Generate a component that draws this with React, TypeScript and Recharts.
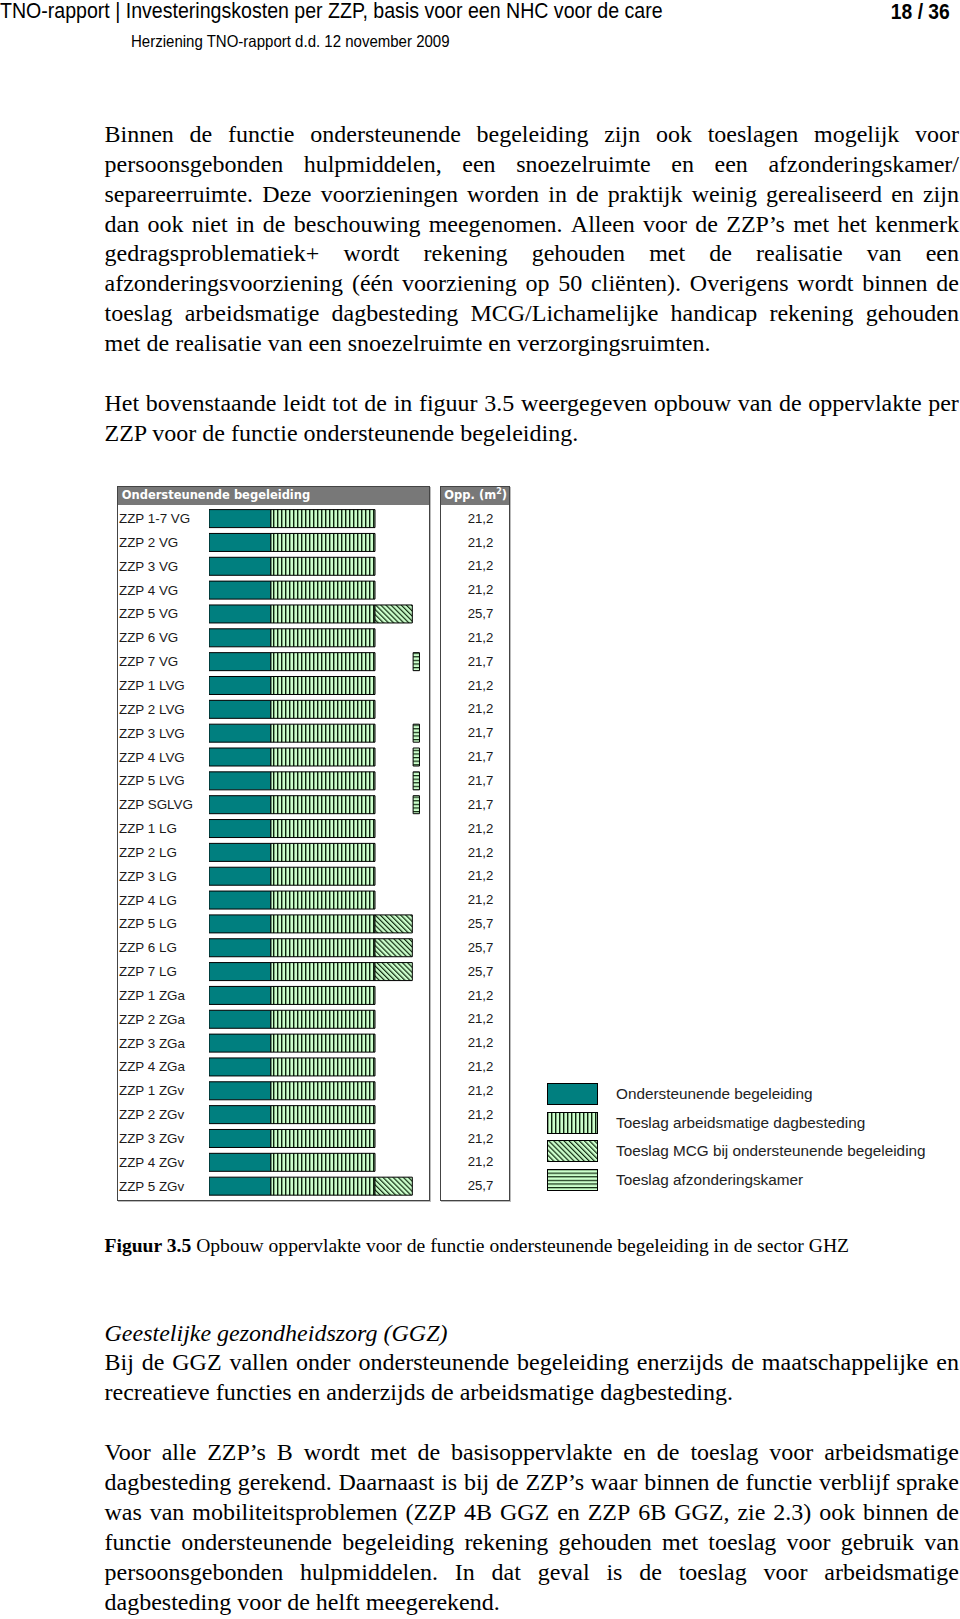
import React from 'react'
import { BarChart, Bar, XAxis, YAxis, Legend } from 'recharts'

const CATEGORIES = [
  'ZZP 1-7 VG', 'ZZP 2 VG', 'ZZP 3 VG', 'ZZP 4 VG', 'ZZP 5 VG', 'ZZP 6 VG', 'ZZP 7 VG',
  'ZZP 1 LVG', 'ZZP 2 LVG', 'ZZP 3 LVG', 'ZZP 4 LVG', 'ZZP 5 LVG', 'ZZP SGLVG',
  'ZZP 1 LG', 'ZZP 2 LG', 'ZZP 3 LG', 'ZZP 4 LG', 'ZZP 5 LG', 'ZZP 6 LG', 'ZZP 7 LG',
  'ZZP 1 ZGa', 'ZZP 2 ZGa', 'ZZP 3 ZGa', 'ZZP 4 ZGa',
  'ZZP 1 ZGv', 'ZZP 2 ZGv', 'ZZP 3 ZGv', 'ZZP 4 ZGv', 'ZZP 5 ZGv',
]

// segment lengths as drawn (m2)
const ONDERSTEUNEND = [
  7.8, 7.8, 7.8, 7.8, 7.8, 7.8, 7.8,
  7.8, 7.8, 7.8, 7.8, 7.8, 7.8,
  7.8, 7.8, 7.8, 7.8, 7.8, 7.8, 7.8,
  7.8, 7.8, 7.8, 7.8,
  7.8, 7.8, 7.8, 7.8, 7.8,
]
const ARBEID = [
  13.1, 13.1, 13.1, 13.1, 13.1, 13.1, 13.1,
  13.1, 13.1, 13.1, 13.1, 13.1, 13.1,
  13.1, 13.1, 13.1, 13.1, 13.1, 13.1, 13.1,
  13.1, 13.1, 13.1, 13.1,
  13.1, 13.1, 13.1, 13.1, 13.1,
]
const MCG = [
  0, 0, 0, 0, 4.7, 0, 0,
  0, 0, 0, 0, 0, 0,
  0, 0, 0, 0, 4.7, 4.7, 4.7,
  0, 0, 0, 0,
  0, 0, 0, 0, 4.7,
]
// empty space before the separate afzonderingskamer block
const GAP = [
  0, 0, 0, 0, 0, 0, 4.8,
  0, 0, 4.8, 4.8, 4.8, 4.8,
  0, 0, 0, 0, 0, 0, 0,
  0, 0, 0, 0,
  0, 0, 0, 0, 0,
]
const AFZONDERING = [
  0, 0, 0, 0, 0, 0, 0.8,
  0, 0, 0.8, 0.8, 0.8, 0.8,
  0, 0, 0, 0, 0, 0, 0,
  0, 0, 0, 0,
  0, 0, 0, 0, 0,
]
const OPP = [
  '21,2', '21,2', '21,2', '21,2', '25,7', '21,2', '21,7',
  '21,2', '21,2', '21,7', '21,7', '21,7', '21,7',
  '21,2', '21,2', '21,2', '21,2', '25,7', '25,7', '25,7',
  '21,2', '21,2', '21,2', '21,2',
  '21,2', '21,2', '21,2', '21,2', '25,7',
]

const LEGEND_ITEMS = [
  { label: 'Ondersteunende begeleiding', fill: '#007f7f' },
  { label: 'Toeslag arbeidsmatige dagbesteding', fill: 'url(#pVert)' },
  { label: 'Toeslag MCG bij ondersteunende begeleiding', fill: 'url(#pDiag)' },
  { label: 'Toeslag afzonderingskamer', fill: 'url(#pHor)' },
]

const data = CATEGORIES.map((name, i) => ({
  name,
  ondersteunend: ONDERSTEUNEND[i],
  arbeid: ARBEID[i],
  mcg: MCG[i],
  gap: GAP[i],
  afz: AFZONDERING[i],
}))

const SANS = "'Liberation Sans', Arial, sans-serif"
const SERIF = "'Liberation Serif', 'Times New Roman', serif"
const LH = 29.85

const PARA_1 = [
  'Binnen de functie ondersteunende begeleiding zijn ook toeslagen mogelijk voor',
  'persoonsgebonden hulpmiddelen, een snoezelruimte en een afzonderingskamer/',
  'separeerruimte. Deze voorzieningen worden in de praktijk weinig gerealiseerd en zijn',
  'dan ook niet in de beschouwing meegenomen. Alleen voor de ZZP’s met het kenmerk',
  'gedragsproblematiek+ wordt rekening gehouden met de realisatie van een',
  'afzonderingsvoorziening (één voorziening op 50 cliënten). Overigens wordt binnen de',
  'toeslag arbeidsmatige dagbesteding MCG/Lichamelijke handicap rekening gehouden',
  'met de realisatie van een snoezelruimte en verzorgingsruimten.',
]
const PARA_2 = [
  'Het bovenstaande leidt tot de in figuur 3.5 weergegeven opbouw van de oppervlakte per',
  'ZZP voor de functie ondersteunende begeleiding.',
]
const PARA_3 = [
  'Bij de GGZ vallen onder ondersteunende begeleiding enerzijds de maatschappelijke en',
  'recreatieve functies en anderzijds de arbeidsmatige dagbesteding.',
]
const PARA_4 = [
  'Voor alle ZZP’s B wordt met de basisoppervlakte en de toeslag voor arbeidsmatige',
  'dagbesteding gerekend. Daarnaast is bij de ZZP’s waar binnen de functie verblijf sprake',
  'was van mobiliteitsproblemen (ZZP 4B GGZ en ZZP 6B GGZ, zie 2.3) ook binnen de',
  'functie ondersteunende begeleiding rekening gehouden met toeslag voor gebruik van',
  'persoonsgebonden hulpmiddelen. In dat geval is de toeslag voor arbeidsmatige',
  'dagbesteding voor de helft meegerekend.',
]

function Para({ lines, top }: { lines: string[]; top: number }) {
  return (
    <div style={{ position: 'absolute', left: 104.5, top, width: 854.5, fontFamily: SERIF, fontSize: 24, lineHeight: `${LH}px`, color: '#000' }}>
      {lines.map((line, i) =>
        i < lines.length - 1 ? (
          <div key={i} style={{ display: 'flex', justifyContent: 'space-between', height: LH, whiteSpace: 'nowrap' }}>
            {line.split(' ').map((w, j) => <span key={j}>{w}</span>)}
          </div>
        ) : (
          <div key={i} style={{ height: LH, whiteSpace: 'pre' }}>{line}</div>
        )
      )}
    </div>
  )
}

const NameTick = (props: any) => (
  <text x={2} y={props.y} dy={4.6} fontSize={13.4} fill="#1a1a1a" fontFamily={SANS} textAnchor="start">
    {props.payload.value}
  </text>
)

const OppTick = (props: any) => (
  <text x={376.3} y={props.y} dy={4.2} fontSize={13.2} fill="#1a1a1a" fontFamily={SANS} textAnchor="end">
    {OPP[CATEGORIES.indexOf(props.payload.value)]}
  </text>
)

const LegendBox = () => (
  <div style={{ fontFamily: SANS, fontSize: 15.3, color: '#222' }}>
    {LEGEND_ITEMS.map((item) => (
      <div key={item.label} style={{ display: 'flex', alignItems: 'center', height: 28.7 }}>
        <svg width={51} height={22} style={{ display: 'block' }}>
          <rect x={0.5} y={0.5} width={50} height={21} fill={item.fill} stroke="#000" strokeWidth={1} />
        </svg>
        <span style={{ marginLeft: 18, whiteSpace: 'nowrap' }}>{item.label}</span>
      </div>
    ))}
  </div>
)

const panelHeader: React.CSSProperties = {
  position: 'absolute',
  top: 0,
  left: 0,
  right: 0,
  height: 18,
  background: '#787878',
  color: '#fff',
  fontFamily: "'DejaVu Sans', Verdana, sans-serif",
  fontWeight: 'bold',
  fontSize: 11.5,
  lineHeight: '17px',
  whiteSpace: 'nowrap',
}

export default function App() {
  return (
    <div style={{ position: 'absolute', left: 0, top: 0, width: 960, height: 1619, background: '#fff', overflow: 'hidden' }}>
      <svg width={0} height={0} style={{ position: 'absolute' }}>
        <defs>
          <pattern id="pVert" width={4} height={4} patternUnits="userSpaceOnUse">
            <rect width={4} height={4} fill="#ccffcc" />
            <rect x={0} y={0} width={1.4} height={4} fill="#0c220c" />
          </pattern>
          <pattern id="pDiag" width={3.6} height={3.6} patternUnits="userSpaceOnUse" patternTransform="rotate(-45)">
            <rect width={3.6} height={3.6} fill="#ccffcc" />
            <rect x={0} y={0} width={1.2} height={3.6} fill="#102a10" />
          </pattern>
          <pattern id="pHor" width={4} height={3.6} patternUnits="userSpaceOnUse">
            <rect width={4} height={3.6} fill="#ccffcc" />
            <rect x={0} y={0} width={4} height={1.2} fill="#102a10" />
          </pattern>
        </defs>
      </svg>

      {/* page header */}
      <div style={{ position: 'absolute', left: 0, top: 0.5, fontFamily: SANS, fontSize: 21.5, lineHeight: '21.5px', whiteSpace: 'nowrap', transform: 'scaleX(0.91)', transformOrigin: 'left top' }}>
        TNO-rapport | Investeringskosten per ZZP, basis voor een NHC voor de care
      </div>
      <div style={{ position: 'absolute', right: 10, top: 0.5, fontFamily: SANS, fontWeight: 'bold', fontSize: 21.2, lineHeight: '21.5px', whiteSpace: 'nowrap', transform: 'scaleX(0.91)', transformOrigin: 'right top' }}>
        18 / 36
      </div>
      <div style={{ position: 'absolute', left: 131, top: 32.5, fontFamily: SANS, fontSize: 16.5, lineHeight: '16.5px', whiteSpace: 'nowrap', transform: 'scaleX(0.91)', transformOrigin: 'left top' }}>
        Herziening TNO-rapport d.d. 12 november 2009
      </div>

      <Para lines={PARA_1} top={120} />
      <Para lines={PARA_2} top={389.4} />

      {/* chart frames */}
      <div style={{ position: 'absolute', left: 117, top: 486, width: 311, height: 713, border: '1px solid #444', boxShadow: '1px 1px 0 #bbb' }}>
        <div style={panelHeader}><span style={{ marginLeft: 3.7 }}>Ondersteunende begeleiding</span></div>
      </div>
      <div style={{ position: 'absolute', left: 440, top: 486, width: 68, height: 713, border: '1px solid #444', boxShadow: '1px 1px 0 #bbb' }}>
        <div style={panelHeader}><span style={{ marginLeft: 3.3 }}>Opp. (m<sup style={{ fontSize: 8, lineHeight: 0 }}>2</sup>)</span></div>
      </div>

      <div style={{ position: 'absolute', left: 117, top: 505 }}>
        <BarChart
          width={843}
          height={695}
          data={data}
          layout="vertical"
          margin={{ top: 1.6, right: 451, bottom: 2, left: 0 }}
        >
          <XAxis type="number" domain={[0, 27.7]} hide allowDataOverflow />
          <YAxis
            yAxisId="left"
            type="category"
            dataKey="name"
            width={92}
            axisLine={false}
            tickLine={false}
            interval={0}
            tick={(p: any) => <NameTick {...p} />}
          />
          <YAxis
            yAxisId="right"
            orientation="right"
            type="category"
            dataKey="name"
            width={80}
            axisLine={false}
            tickLine={false}
            interval={0}
            tick={(p: any) => <OppTick {...p} />}
          />
          <Legend
            layout="vertical"
            align="center"
            verticalAlign="middle"
            content={() => <LegendBox />}
            wrapperStyle={{ left: 430, top: 574.5, width: 420, height: 120 }}
          />
          <Bar yAxisId="left" dataKey="ondersteunend" stackId="a" barSize={18} fill="#007f7f" stroke="#000" strokeWidth={1} isAnimationActive={false} />
          <Bar yAxisId="left" dataKey="arbeid" stackId="a" barSize={18} fill="url(#pVert)" stroke="#000" strokeWidth={1} isAnimationActive={false} />
          <Bar yAxisId="left" dataKey="mcg" stackId="a" barSize={18} fill="url(#pDiag)" stroke="#000" strokeWidth={1} isAnimationActive={false} />
          <Bar yAxisId="left" dataKey="gap" stackId="a" barSize={18} fill="none" stroke="none" isAnimationActive={false} />
          <Bar yAxisId="left" dataKey="afz" stackId="a" barSize={18} fill="url(#pHor)" stroke="#000" strokeWidth={1} isAnimationActive={false} />
        </BarChart>
      </div>

      <div style={{ position: 'absolute', left: 104.5, top: 1234.4, fontFamily: SERIF, fontSize: 19.6, lineHeight: '24px', whiteSpace: 'nowrap' }}>
        <b>Figuur 3.5</b> Opbouw oppervlakte voor de functie ondersteunende begeleiding in de sector GHZ
      </div>

      <div style={{ position: 'absolute', left: 104.5, top: 1318.5, fontFamily: SERIF, fontSize: 24, lineHeight: `${LH}px`, fontStyle: 'italic', whiteSpace: 'nowrap' }}>
        Geestelijke gezondheidszorg (GGZ)
      </div>
      <Para lines={PARA_3} top={1318.5 + LH} />
      <Para lines={PARA_4} top={1438.3} />
    </div>
  )
}
